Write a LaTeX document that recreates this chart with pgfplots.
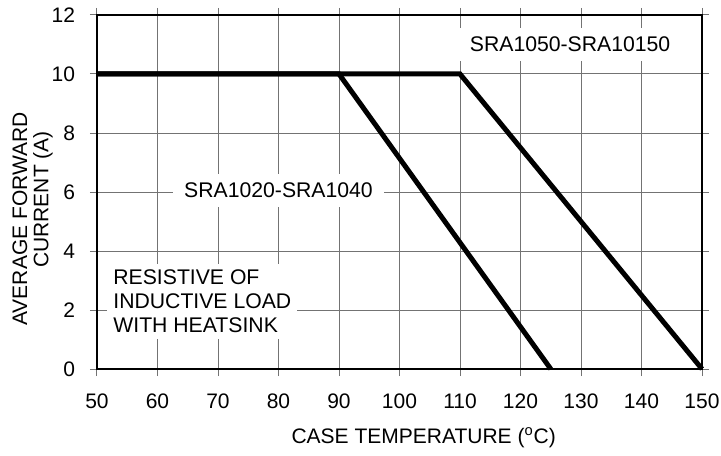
\documentclass[border=0pt]{standalone}
\usepackage{fontspec}
\setmainfont{Liberation Sans}
\usepackage{pgfplots}
\pgfplotsset{compat=1.18}
\begin{document}
\begin{tikzpicture}
\begin{axis}[
  at={(0,0)}, anchor=south west,
  scale only axis,
  width=302.5pt, height=177pt,
  xmin=50, xmax=150, ymin=0, ymax=12,
  xtick={50,60,...,150}, ytick={0,2,...,12},
  /pgf/number format/assume math mode=true,
  tick align=outside,
  major tick length=3.5pt,
  every tick/.style={black!55, line width=0.5pt},
  grid=major,
  major grid style={black!55, line width=0.5pt},
  axis line style={black, line width=0.6pt},
  tick label style={font=\fontsize{10.5}{12}\selectfont},
  yticklabel style={xshift=-4pt},
  xticklabel style={yshift=-5.5pt},
  xlabel={CASE TEMPERATURE (\textsuperscript{o}C)},
  xlabel style={at={(rel axis cs:0.54,0)}, anchor=center, yshift=-34.5pt, font=\fontsize{10.5}{12}\selectfont},
  clip=false,
]
\addplot[black, line width=2.5pt, line join=miter] coordinates {(50,10) (90,10) (125,0)};
\addplot[black, line width=2.5pt, line join=miter] coordinates {(50,10) (110,10) (150,0)};
\node[fill=white, inner xsep=5.5pt, inner ysep=4.5pt, font=\fontsize{10.6}{12}\selectfont] at (axis cs:80,6.05) {SRA1020-SRA1040};
\node[fill=white, inner xsep=5.5pt, inner ysep=4.5pt, font=\fontsize{10.6}{12}\selectfont] at (axis cs:128.2,11) {SRA1050-SRA10150};
\node[fill=white, anchor=west, align=left, inner sep=3pt, font=\fontsize{10.6}{12}\selectfont] at (axis cs:51.65,2.3) {RESISTIVE OF\\INDUCTIVE LOAD\\WITH HEATSINK};
\node[rotate=90, anchor=center, inner sep=0pt, font=\fontsize{10.5}{12}\selectfont] at ([xshift=-38.5pt]rel axis cs:0,0.4237) {AVERAGE FORWARD};
\node[rotate=90, anchor=center, inner sep=0pt, font=\fontsize{10.5}{12}\selectfont] at ([xshift=-27pt]rel axis cs:0,0.4788) {CURRENT (A)};
\end{axis}
\pgfresetboundingbox
\path[use as bounding box] (-48.5pt,-43pt) rectangle (312pt,184.5pt);
\end{tikzpicture}
\end{document}
